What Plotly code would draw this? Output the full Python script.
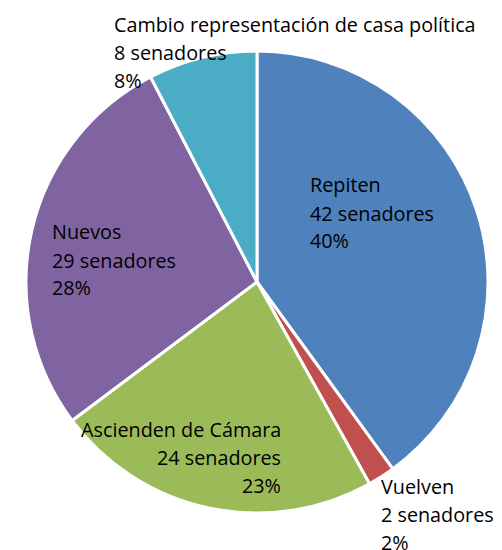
import plotly.graph_objects as go

categorias = ["Repiten", "Vuelven", "Ascienden de Cámara", "Nuevos",
              "Cambio representación de casa política"]
senadores = [42, 2, 24, 29, 8]
porcentajes = ["40%", "2%", "23%", "28%", "8%"]
colores = ["#4F81BD", "#C0504D", "#9BBB59", "#8064A2", "#4BACC6"]

W, H = 502, 550
OFF = 8  # page body margin
FONT = "Open Sans"


def fx(px):
    return (px - OFF) / W


def fy(py):
    return 1 - (py - OFF) / H


fig = go.Figure(go.Pie(
    labels=categorias,
    values=senadores,
    sort=False,
    direction="clockwise",
    rotation=0,
    textinfo="none",
    hoverinfo="none",
    marker=dict(colors=colores, line=dict(color="white", width=3)),
    domain=dict(x=[fx(26), fx(488)], y=[fy(513), fy(51)]),
    showlegend=False,
))

# label placement per slice: (x pixel, first-line y pixel, anchor)
posiciones = [
    (308, 185, "left"),
    (379, 486, "left"),
    (283, 429, "right"),
    (50, 232, "left"),
    (112, 25, "left"),
]

annotations = []
for cat, n, pct, (px, py, anc) in zip(categorias, senadores, porcentajes, posiciones):
    lineas = [cat, f"{n} senadores", pct]
    for k, txt in enumerate(lineas):
        annotations.append(dict(
            text=txt, x=fx(px), y=fy(py + 28 * k),
            xref="paper", yref="paper", xanchor=anc, yanchor="middle",
            showarrow=False, font=dict(family=FONT, size=19.8, color="black"),
        ))

fig.update_layout(
    width=W, height=H,
    margin=dict(l=0, r=0, t=0, b=0),
    paper_bgcolor="white",
    plot_bgcolor="white",
    annotations=annotations,
)

fig.write_html("out.html")
